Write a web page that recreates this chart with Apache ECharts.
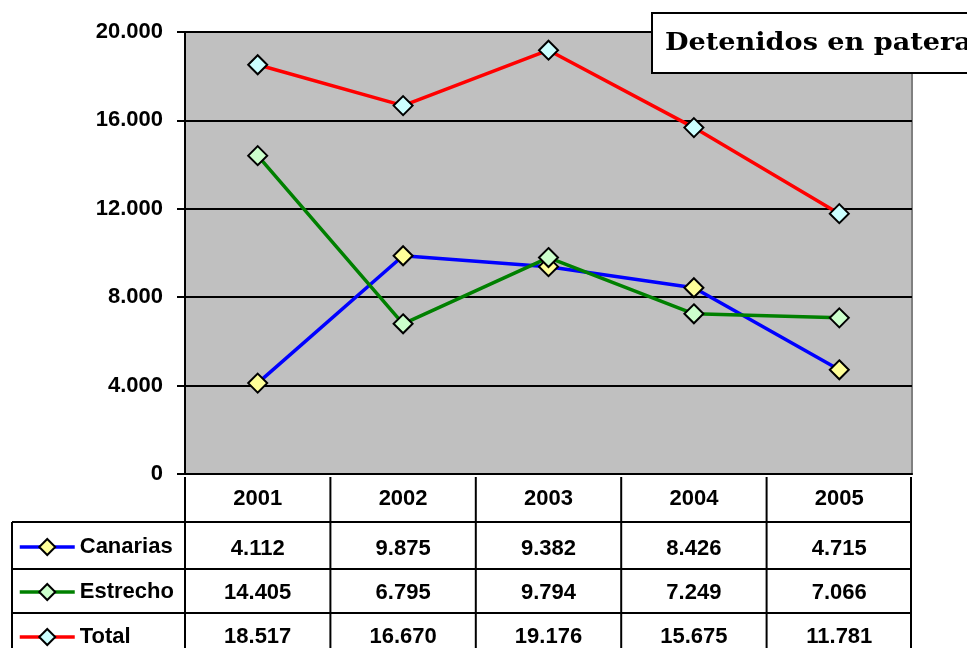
<!DOCTYPE html>
<html><head><meta charset="utf-8">
<script src="https://cdn.jsdelivr.net/npm/echarts@6/dist/echarts.min.js"></script>
<style>html,body{margin:0;padding:0;background:#fff}#c{width:967px;height:648px}</style>
</head><body><div id="c"></div>
<script>
var years = ['2001','2002','2003','2004','2005'];
var canarias = [4112, 9875, 9382, 8426, 4715];
var estrecho = [14405, 6795, 9794, 7249, 7066];
var total = [18517, 16670, 19176, 15675, 11781];
var seriesNames = ['Canarias','Estrecho','Total'];
var yTicks = {min: 0, max: 20000, interval: 4000};
var titleText = 'Detenidos en patera';

var FONT = '"Liberation Sans", Arial, sans-serif';
var FS = 22;
function fmt(v){ return String(v).replace(/\B(?=(\d{3})+(?!\d))/g, '.'); }

var G = {left:185, right:55, top:32, bottom:171};
var W = 967, H = 648;
var axisY = H - G.bottom;
var rowCenters = [502, 552, 596, 640];
var legendCenters = [548, 593, 638];

var chart = echarts.init(document.getElementById('c'), null, {renderer:'canvas'});

function tableAxis(arr, margin){
  return {
    type:'category', data: years, position:'bottom', gridIndex:0,
    axisLine:{show:false}, axisTick:{show:false}, splitLine:{show:false},
    axisLabel:{interval:0, margin: margin, verticalAlign:'middle', color:'#000',
      fontFamily: FONT, fontWeight:'bold', fontSize:FS,
      formatter: arr ? function(v, i){ return fmt(arr[i]); } : '{value}'}
  };
}

var lbl = {fontFamily: FONT, fontWeight:'bold', fontSize:FS, color:'#000'};
var colors = ['#0000FF','#008000','#FF0000'];
var fills = ['#FFFF99','#CCFFCC','#CCFFFF'];

var legends = seriesNames.map(function(n, i){
  return {
    orient:'vertical', left:18, top: legendCenters[i] - 12, padding:0, itemWidth:55, itemHeight:20,
    data:[n], lineStyle:{width:3.5}, itemStyle:{borderWidth:2, borderColor:'#000'},
    textStyle: lbl
  };
});

var option = {
  animation:false,
  backgroundColor:'#fff',
  grid:{left:G.left, right:G.right, top:G.top, bottom:G.bottom, show:true,
    backgroundColor:'#C0C0C0', borderColor:'#808080', borderWidth:2},
  legend: legends,
  xAxis:[
    Object.assign(tableAxis(null, rowCenters[0]-axisY), {axisLine:{show:true, lineStyle:{color:'#000', width:2}}}),
    tableAxis(canarias, rowCenters[1]-axisY),
    tableAxis(estrecho, rowCenters[2]-axisY),
    tableAxis(total, rowCenters[3]-axisY)
  ],
  yAxis:{
    type:'value', min:yTicks.min, max:yTicks.max, interval:yTicks.interval,
    axisLine:{show:true, lineStyle:{color:'#000', width:2}},
    axisTick:{show:true, length:8, lineStyle:{color:'#000', width:2}},
    splitLine:{show:true, lineStyle:{color:'#000', width:2}},
    axisLabel:Object.assign({margin:22, formatter: function(v){return fmt(v);}}, lbl)
  },
  series:[canarias, estrecho, total].map(function(d, i){
    return {name:seriesNames[i], type:'line', data:d, symbol:'diamond', symbolSize:19,
      color: colors[i],
      lineStyle:{color:colors[i], width:3.5},
      itemStyle:{color:fills[i], borderColor:'#000', borderWidth:2}};
  })
};
chart.setOption(option);

// table borders
var c0 = chart.convertToPixel({xAxisIndex:0}, years[0]);
var c1 = chart.convertToPixel({xAxisIndex:0}, years[1]);
var band = c1 - c0;
var gl = [];
function line(x1,y1,x2,y2){ gl.push({type:'line', shape:{x1:x1,y1:y1,x2:x2,y2:y2}, style:{stroke:'#000', lineWidth:2}, z:10}); }
var right = W - G.right - 1;
[522, 569, 613].forEach(function(y){ line(12, y, right, y); });
for (var i = 0; i <= years.length; i++) {
  var x = c0 - band/2 + i*band;
  if (i === years.length) x = right;
  line(x, axisY, x, H);
}
line(12, 522, 12, H);
gl.push({type:'rect', shape:{x:652, y:13, width:340, height:60}, style:{fill:'#fff', stroke:'#000', lineWidth:2}, z:20});
gl.push({type:'text', x:665, y:44, scaleX:1.13, style:{text:titleText, font:'bold 24px "DejaVu Serif", serif', fill:'#000', verticalAlign:'middle'}, z:21});
chart.setOption({graphic: gl});
</script></body></html>
